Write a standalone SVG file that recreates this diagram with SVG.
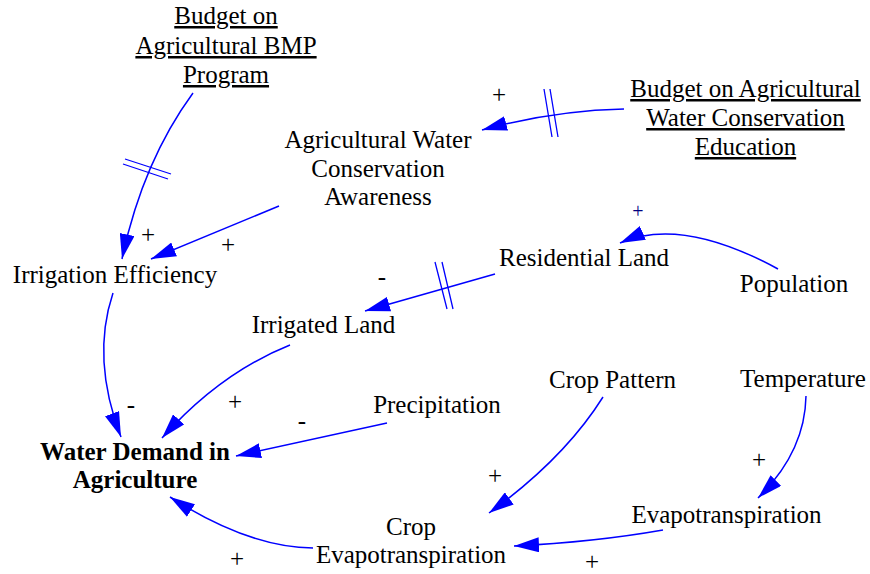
<svg xmlns="http://www.w3.org/2000/svg" width="870" height="574" viewBox="0 0 870 574" font-family="'Liberation Serif', 'DejaVu Serif', serif">
  <style>
    text { font-family: 'Liberation Serif', 'DejaVu Serif', serif; }
    .lbl { font-size: 25px; fill: #000; text-anchor: middle; }
    .ul { text-decoration: underline; }
    .bold { font-weight: bold; }
    .pol { font-size: 25px; fill: #000; text-anchor: middle; }
    .link { fill: none; stroke: #0000ff; stroke-width: 1.5; marker-end: url(#head); }
    .delay { fill: none; stroke: #0000ff; stroke-width: 1.3; }
  </style>
  <defs>
    <marker id="head" viewBox="0 0 25 15" refX="25" refY="7.5" markerUnits="userSpaceOnUse" markerWidth="25" markerHeight="15" orient="auto">
      <path d="M0,0 L25,7.5 L0,15 Z" fill="#0000ff"/>
    </marker>
  </defs>

  <rect width="870" height="574" fill="#ffffff"/>

  <!-- causal links -->
  <g id="connectors">
    <!-- Budget on Agricultural BMP Program -> Irrigation Efficiency (delayed) -->
    <path class="link" d="M193,93 Q142.5,162 122,259"/>
    <path class="delay" d="M125,159 L171,174 M123,164 L168,179"/>
    <!-- Awareness -> Irrigation Efficiency -->
    <path class="link" d="M279,206 L151,259"/>
    <!-- Education budget -> Awareness (delayed) -->
    <path class="link" d="M624,109 Q553,110.5 482,130"/>
    <path class="delay" d="M544,89 L552,137 M550,89 L558,137"/>
    <!-- Population -> Residential Land -->
    <path class="link" d="M778,269 Q681,216 620,243"/>
    <!-- Residential Land -> Irrigated Land (delayed) -->
    <path class="link" d="M495,274 L365,311"/>
    <path class="delay" d="M435,262 L447,309 M442,262 L453,309"/>
    <!-- Irrigation Efficiency -> Water Demand -->
    <path class="link" d="M113,293 Q91,359 121,437"/>
    <!-- Irrigated Land -> Water Demand -->
    <path class="link" d="M290,345 Q220,373 162,438"/>
    <!-- Precipitation -> Water Demand -->
    <path class="link" d="M387,423 L236,456"/>
    <!-- Crop Evapotranspiration -> Water Demand -->
    <path class="link" d="M313,548 Q248.5,547.5 170,497"/>
    <!-- Crop Pattern -> Crop Evapotranspiration -->
    <path class="link" d="M603,397 Q564,459 489,513"/>
    <!-- Temperature -> Evapotranspiration -->
    <path class="link" d="M806,396 Q805,452 758,498"/>
    <!-- Evapotranspiration -> Crop Evapotranspiration -->
    <path class="link" d="M663,530 Q595,542 514,546"/>
  </g>

  <!-- link polarities -->
  <g id="polarities">
    <text class="pol" x="148" y="243">+</text>
    <text class="pol" x="228" y="253">+</text>
    <text class="pol" x="499" y="103">+</text>
    <text class="pol" x="638" y="218" style="font-size:20px; fill:#000080">+</text>
    <text class="pol" x="382" y="285">-</text>
    <text class="pol" x="131" y="413">-</text>
    <text class="pol" x="235" y="410">+</text>
    <text class="pol" x="302" y="429">-</text>
    <text class="pol" x="237" y="567">+</text>
    <text class="pol" x="495" y="484">+</text>
    <text class="pol" x="759" y="468">+</text>
    <text class="pol" x="592" y="570">+</text>
  </g>

  <!-- variables -->
  <g id="budget-bmp">
    <text class="lbl ul" x="226" y="24">Budget on</text>
    <text class="lbl ul" x="226" y="54">Agricultural BMP</text>
    <text class="lbl ul" x="226" y="83">Program</text>
  </g>
  <g id="awareness">
    <text class="lbl" x="378" y="148">Agricultural Water</text>
    <text class="lbl" x="378" y="177">Conservation</text>
    <text class="lbl" x="378" y="205">Awareness</text>
  </g>
  <g id="budget-education">
    <text class="lbl ul" x="745.5" y="97">Budget on Agricultural</text>
    <text class="lbl ul" x="745.5" y="126">Water Conservation</text>
    <text class="lbl ul" x="745.5" y="155">Education</text>
  </g>
  <g id="irrigation-efficiency">
    <text class="lbl" x="115" y="283">Irrigation Efficiency</text>
  </g>
  <g id="residential-land">
    <text class="lbl" x="584" y="266">Residential Land</text>
  </g>
  <g id="population">
    <text class="lbl" x="794" y="292">Population</text>
  </g>
  <g id="irrigated-land">
    <text class="lbl" x="323.5" y="333">Irrigated Land</text>
  </g>
  <g id="precipitation">
    <text class="lbl" x="437" y="413">Precipitation</text>
  </g>
  <g id="water-demand">
    <text class="lbl bold" x="135" y="460">Water Demand in</text>
    <text class="lbl bold" x="135" y="488">Agriculture</text>
  </g>
  <g id="crop-evapotranspiration">
    <text class="lbl" x="411" y="535">Crop</text>
    <text class="lbl" x="411" y="563">Evapotranspiration</text>
  </g>
  <g id="crop-pattern">
    <text class="lbl" x="612.5" y="388">Crop Pattern</text>
  </g>
  <g id="temperature">
    <text class="lbl" x="803" y="387">Temperature</text>
  </g>
  <g id="evapotranspiration">
    <text class="lbl" x="726.5" y="523">Evapotranspiration</text>
  </g>
</svg>
